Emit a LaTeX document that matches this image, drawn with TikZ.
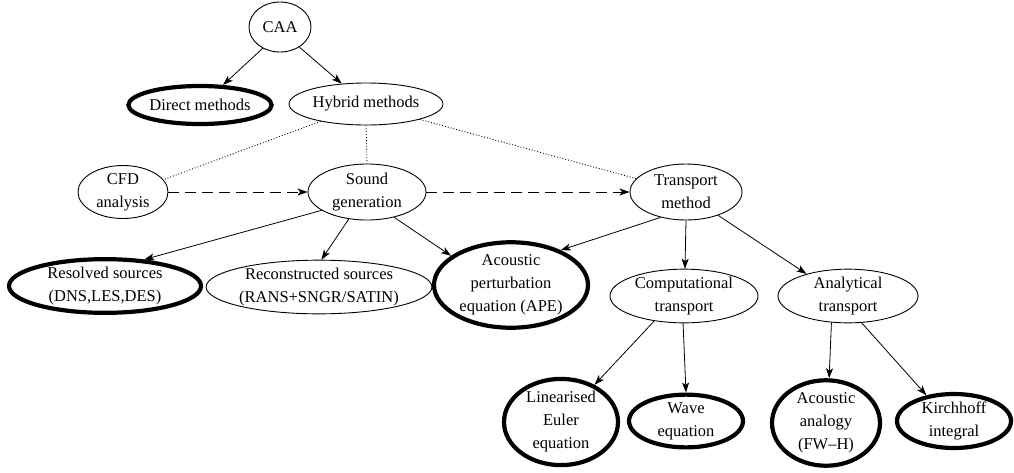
\documentclass[tikz,border=0pt]{standalone}
\usepackage{fontspec}
\setmainfont{Liberation Serif}
\usetikzlibrary{shapes.geometric,arrows.meta}
\begin{document}
\begin{tikzpicture}[x=1pt,y=-1pt,
  every node/.style={font=\fontsize{16.5}{23}\selectfont},
  ell/.style={ellipse,draw,line width=0.9pt,inner sep=0pt,align=center},
  thickell/.style={ell,line width=4.2pt},
  arr/.style={-{Stealth[length=10pt,width=7pt,inset=2.5pt]},line width=0.8pt},
  dotline/.style={dotted,line width=0.9pt},
  dashline/.style={-{Stealth[length=10pt,width=7pt,inset=2.5pt]},line width=1pt,dash pattern=on 11pt off 6pt}]
\useasboundingbox (0,0) rectangle (1014,472);
\node[ell,minimum width=62pt,minimum height=50pt] (caa) at (280,27) {CAA};
\node[thickell,minimum width=142pt,minimum height=38pt] (direct) at (200,105) {Direct methods};
\node[ell,minimum width=154pt,minimum height=42pt] (hybrid) at (366,104) {Hybrid methods};
\node[ell,minimum width=90pt,minimum height=52pt] (cfd) at (123,192) {CFD\\analysis};
\node[ell,minimum width=118pt,minimum height=56pt] (sound) at (367,192) {Sound\\generation};
\node[ell,minimum width=112pt,minimum height=56pt] (transport) at (686,192) {Transport\\method};
\node[thickell,minimum width=192pt,minimum height=52pt] (resolved) at (105,286) {Resolved sources\\(DNS,LES,DES)};
\node[ell,minimum width=204pt,minimum height=50pt] (recon) at (319,287) {Reconstructed sources\\(RANS+SNGR/SATIN)};
\node[thickell,minimum width=154pt,minimum height=68pt] (ape) at (511,285) {Acoustic\\perturbation\\equation (APE)};
\node[ell,minimum width=148pt,minimum height=52pt] (comp) at (684,296) {Computational\\transport};
\node[ell,minimum width=140pt,minimum height=52pt] (anal) at (848,296) {Analytical\\transport};
\node[thickell,minimum width=114pt,minimum height=82pt] (lin) at (561,422) {Linearised\\Euler\\equation};
\node[thickell,minimum width=114pt,minimum height=46pt] (wave) at (686,421) {Wave\\equation};
\node[thickell,minimum width=108pt,minimum height=80pt] (acou) at (826,423) {Acoustic\\analogy\\(FW--H)};
\node[thickell,minimum width=114pt,minimum height=46pt] (kirch) at (954,421) {Kirchhoff\\integral};
\draw[arr] (caa.231) -- (direct.41);
\draw[arr] (caa.314) -- (hybrid.140);
\draw[dotline] (hybrid.201) -- (cfd.17);
\draw[dotline] (hybrid.south) -- (sound.north);
\draw[dotline] (hybrid.344) -- (transport.165);
\draw[dashline] (cfd.east) -- (sound.west);
\draw[dashline] (sound.east) -- (transport.west);
\draw[arr] (sound.202) -- (resolved.34);
\draw[arr] (sound.236) -- (recon.85);
\draw[arr] (sound.317) -- (ape.154);
\draw[arr] (transport.225) -- (ape.35);
\draw[arr] (transport.270) -- (comp.88);
\draw[arr] (transport.324) -- (anal.152);
\draw[arr] (comp.220) -- (lin.48);
\draw[arr] (comp.268) -- (wave.90);
\draw[arr] (anal.238) -- (acou.86);
\draw[arr] (anal.297) -- (kirch.137);
\end{tikzpicture}
\end{document}
